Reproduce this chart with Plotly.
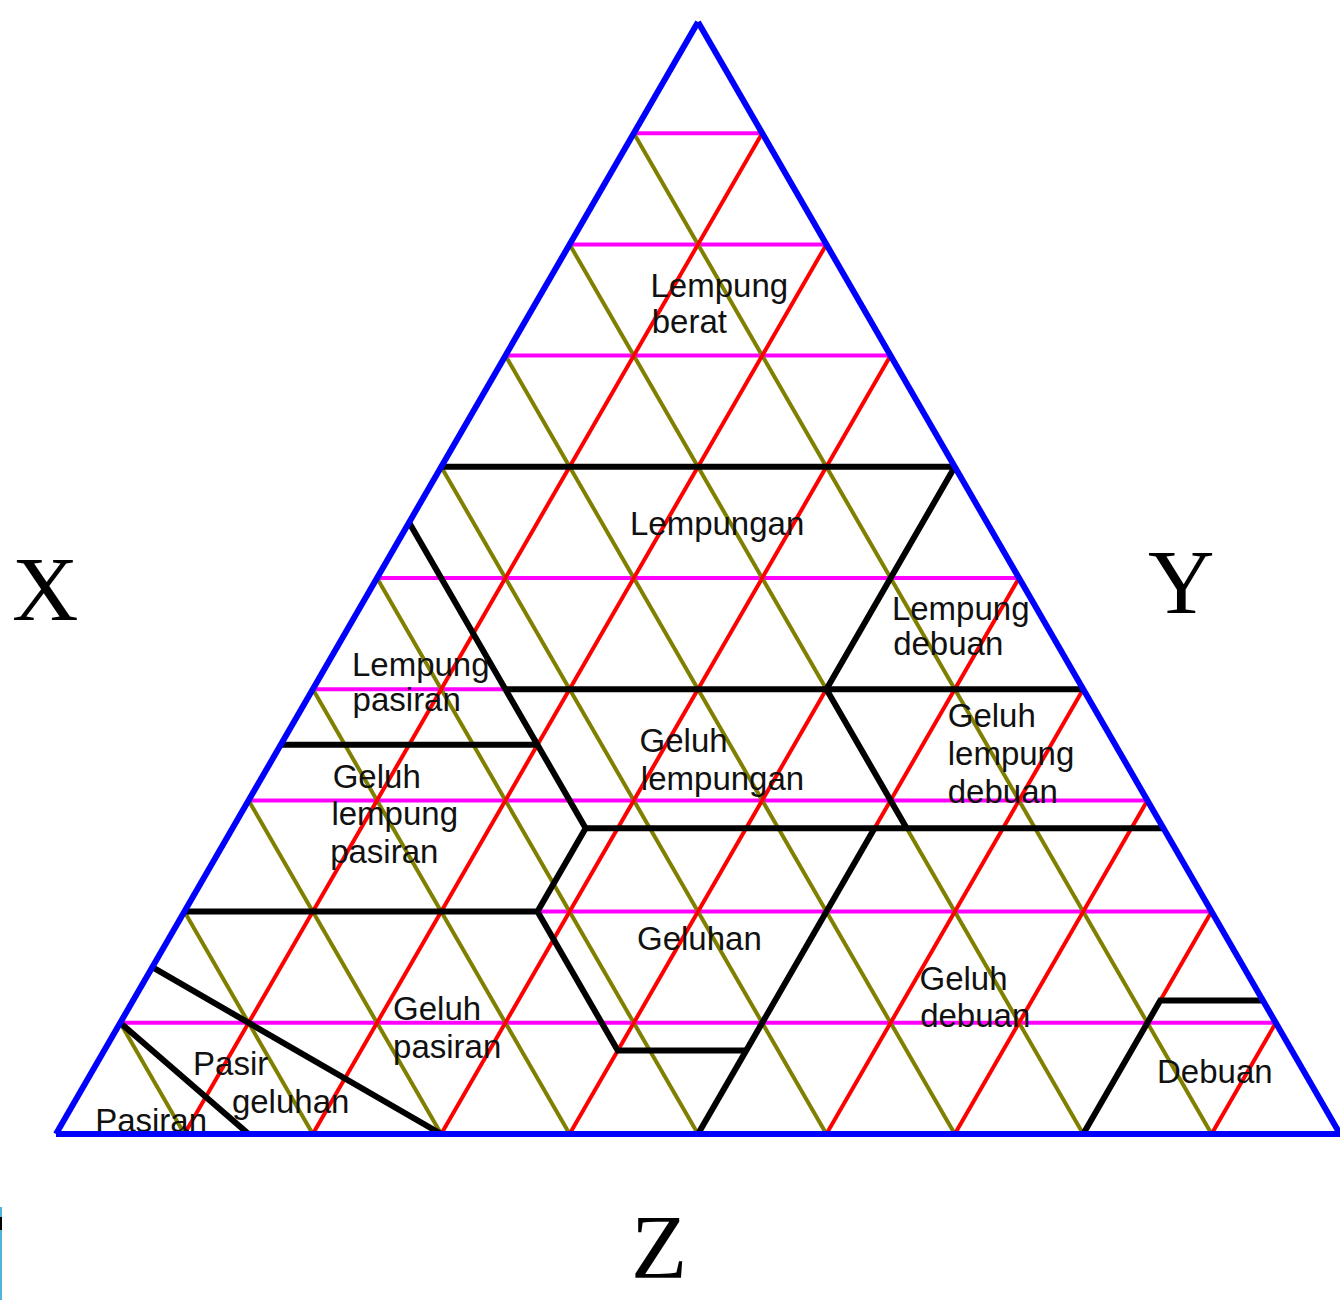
import plotly.graph_objects as go

# ---------------- data: class boundaries as (clay %, sand %, silt %) ----------------
B_HEAVY_CLAY = [(60, 40, 0), (60, 0, 40)]
B_SILTY_CLAY = [(60, 0, 40), (40, 20, 40), (27.5, 20, 52.5)]
B_CLAY_40 = [(40, 45, 15), (40, 0, 60)]
B_SAND_45 = [(55, 45, 0), (27.5, 45, 27.5), (20, 52.5, 27.5)]
B_SANDY_CLAY = [(35, 65, 0), (35, 45, 20)]
B_CLAY_27 = [(27.5, 45, 27.5), (27.5, 0, 72.5)]
B_CLAY_20 = [(20, 80, 0), (20, 52.5, 27.5)]
B_LOAM = [(20, 52.5, 27.5), (7.5, 52.5, 40), (7.5, 42.5, 50)]
B_SILT_50 = [(27.5, 22.5, 50), (0, 50, 50)]
B_SILT = [(0, 20, 80), (12, 8, 80), (12, 0, 88)]
B_LOAMY_SAND = [(15, 85, 0), (0, 70, 30)]
B_SAND = [(10, 90, 0), (0, 85, 15)]

BOUNDARIES = [B_HEAVY_CLAY, B_SILTY_CLAY, B_CLAY_40, B_SAND_45, B_SANDY_CLAY,
              B_CLAY_27, B_CLAY_20, B_LOAM, B_SILT_50, B_SILT, B_LOAMY_SAND, B_SAND]

# class names (one entry per text line)
LABEL_TEXT = ["Lempung", "berat", "Lempungan", "Lempung", "debuan",
              "Lempung", "pasiran", "Geluh", "lempung", "pasiran",
              "Geluh", "lempung", "debuan", "Geluh", "lempungan",
              "Geluhan", "Geluh", "pasiran", "Geluh", "debuan",
              "Debuan", "Pasir", "geluhan", "Pasiran"]
# label anchor positions (clay %, silt %)
LABEL_CLAY = [76.0, 72.8, 54.6, 47.0, 43.8,
              41.9, 38.8, 31.9, 28.5, 25.1,
              37.3, 33.9, 30.5, 35.1, 31.7,
              17.3, 11.0, 7.6, 13.7, 10.4,
              5.3, 6.05, 2.6, 0.9]
LABEL_SILT = [8.3, 10.0, 17.4, 41.6, 43.3,
              2.1, 3.7, 5.6, 7.2, 8.8,
              50.8, 52.5, 54.2, 27.9, 29.7,
              36.6, 20.75, 22.45, 60.4, 62.1,
              83.1, 7.65, 12.4, 2.6]

CORNER_LABELS = ["X", "Y", "Z"]

# ---------------- figure ----------------
fig = go.Figure()

for seg in BOUNDARIES:
    fig.add_trace(go.Scatterternary(
        a=[p[0] for p in seg], b=[p[1] for p in seg], c=[p[2] for p in seg],
        mode="lines", line=dict(color="#000000", width=6),
        hoverinfo="skip", showlegend=False))

fig.add_trace(go.Scatterternary(
    a=LABEL_CLAY,
    b=[100 - a - c for a, c in zip(LABEL_CLAY, LABEL_SILT)],
    c=LABEL_SILT,
    mode="text", text=LABEL_TEXT, textposition="middle right",
    textfont=dict(family="Liberation Sans, Arial, sans-serif", size=33, color="#111111"),
    cliponaxis=False, hoverinfo="skip", showlegend=False))

W, H = 1340, 1300
left_px, base_px = 56, 1134
tri_w = W - left_px
tri_h = tri_w * 3 ** 0.5 / 2
yc = 1 - (base_px - tri_h / 2) / H

axis_common = dict(showgrid=True, gridwidth=3.5, showline=True, linecolor="#0000FF",
                   linewidth=6, showticklabels=False, ticks="", tick0=0, dtick=10,
                   min=0, layer="above traces", title=dict(text=""))

fig.update_layout(
    width=W, height=H,
    margin=dict(l=0, r=0, t=0, b=0),
    paper_bgcolor="white",
    showlegend=False,
    hovermode=False,
    ternary=dict(
        sum=100,
        bgcolor="white",
        domain=dict(x=[left_px / W, 1.0], y=[yc - 0.43, yc + 0.43]),
        aaxis=dict(gridcolor="#FF00FF", **axis_common),
        baxis=dict(gridcolor="#808000", **axis_common),
        caxis=dict(gridcolor="#FF0000", **axis_common),
    ),
)

serif = dict(family="Liberation Serif, Times New Roman, serif", size=92, color="#000000")
fig.add_annotation(text=CORNER_LABELS[0], x=45 / W, y=1 - 589 / H, xref="paper", yref="paper",
                   xanchor="center", yanchor="middle", showarrow=False, font=serif)
fig.add_annotation(text=CORNER_LABELS[1], x=1181 / W, y=1 - 582 / H, xref="paper", yref="paper",
                   xanchor="center", yanchor="middle", showarrow=False, font=serif)
fig.add_annotation(text=CORNER_LABELS[2], x=659 / W, y=0, xref="paper", yref="paper",
                   xanchor="center", yanchor="bottom", showarrow=False, font=serif)

# thin sliver at the lower-left page edge
fig.add_shape(type="rect", xref="paper", yref="paper", x0=0, x1=2 / W,
              y0=0, y1=1 - 1207 / H, fillcolor="#4FB5D9", line=dict(width=0))
fig.add_shape(type="rect", xref="paper", yref="paper", x0=0, x1=2 / W,
              y0=1 - 1230 / H, y1=1 - 1217 / H, fillcolor="#000000", line=dict(width=0))

fig.write_html("out.html", config={"displayModeBar": False},
               post_script="document.body.style.margin='0px';")
